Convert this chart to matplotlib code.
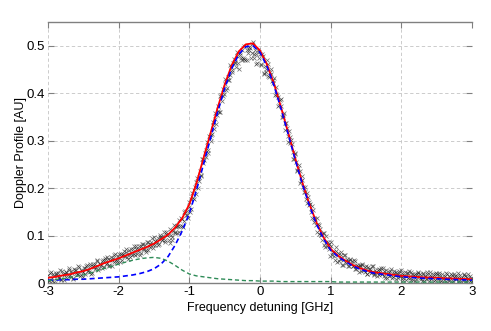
import numpy as np
import matplotlib
matplotlib.use("Agg")
import matplotlib.pyplot as plt

plt.rcParams['font.family'] = ['Liberation Sans', 'DejaVu Sans']

# fitted curves, sampled every 0.1 GHz from -3 to 3
fit_x = np.linspace(-3, 3, 61)
total_fit = [0.011, 0.013, 0.016, 0.018, 0.022, 0.025, 0.030, 0.036, 0.042, 0.047,
             0.052, 0.058, 0.064, 0.070, 0.076, 0.083, 0.092, 0.102, 0.117, 0.137,
             0.166, 0.210, 0.263, 0.316, 0.369, 0.418, 0.459, 0.488, 0.503, 0.505,
             0.490, 0.460, 0.419, 0.369, 0.316, 0.262, 0.211, 0.166, 0.127, 0.096,
             0.072, 0.058, 0.048, 0.039, 0.032, 0.027, 0.023, 0.021, 0.019, 0.017,
             0.015, 0.014, 0.013, 0.012, 0.0115, 0.011, 0.010, 0.0095, 0.009, 0.0085,
             0.008]
main_fit = [0.006, 0.006, 0.007, 0.007, 0.008, 0.008, 0.009, 0.010, 0.011, 0.012,
            0.013, 0.015, 0.017, 0.020, 0.024, 0.030, 0.040, 0.056, 0.080, 0.110,
            0.147, 0.195, 0.250, 0.305, 0.360, 0.410, 0.452, 0.482, 0.498, 0.500,
            0.486, 0.456, 0.415, 0.366, 0.313, 0.259, 0.208, 0.163, 0.124, 0.093,
            0.069, 0.056, 0.046, 0.037, 0.030, 0.025, 0.021, 0.019, 0.017, 0.015,
            0.013, 0.012, 0.011, 0.010, 0.0095, 0.009, 0.008, 0.0075, 0.007, 0.0065,
            0.006]
side_fit = [0.005, 0.007, 0.009, 0.011, 0.014, 0.017, 0.021, 0.026, 0.031, 0.035,
            0.040, 0.044, 0.048, 0.051, 0.053, 0.054, 0.052, 0.046, 0.037, 0.027,
            0.019, 0.015, 0.013, 0.011, 0.009, 0.008, 0.007, 0.006, 0.005, 0.005,
            0.004, 0.004, 0.004, 0.003, 0.003, 0.003, 0.003, 0.003, 0.003, 0.003,
            0.003, 0.002, 0.002, 0.002, 0.002, 0.002, 0.002, 0.002, 0.002, 0.002,
            0.002, 0.002, 0.002, 0.002, 0.002, 0.002, 0.002, 0.002, 0.002, 0.002,
            0.002]

# measured profile, scan 1 (every 0.02 GHz from -3 to 3)
scan1_x = np.linspace(-3, 3, 301)
scan1_y = [0.017, 0.007, 0.023, 0.004, 0.014, 0.001, 0.018, 0.022, 0.012, 0.009,
           0.025, 0.007, 0.020, 0.023, 0.016, 0.031, 0.013, 0.021, 0.011, 0.028,
           0.028, 0.018, 0.034, 0.016, 0.026, 0.013, 0.031, 0.035, 0.025, 0.023,
           0.039, 0.021, 0.035, 0.039, 0.033, 0.049, 0.032, 0.039, 0.031, 0.048,
           0.048, 0.039, 0.055, 0.037, 0.048, 0.035, 0.053, 0.058, 0.048, 0.046,
           0.062, 0.044, 0.058, 0.062, 0.056, 0.072, 0.055, 0.062, 0.054, 0.071,
           0.071, 0.062, 0.078, 0.061, 0.072, 0.059, 0.077, 0.082, 0.072, 0.070,
           0.086, 0.069, 0.083, 0.087, 0.081, 0.097, 0.080, 0.088, 0.080, 0.098,
           0.098, 0.090, 0.107, 0.090, 0.102, 0.104, 0.085, 0.101, 0.096, 0.123,
           0.107, 0.120, 0.121, 0.108, 0.137, 0.121, 0.131, 0.151, 0.152, 0.137,
           0.160, 0.156, 0.190, 0.178, 0.202, 0.212, 0.201, 0.224, 0.227, 0.261,
           0.253, 0.273, 0.280, 0.274, 0.309, 0.300, 0.315, 0.340, 0.346, 0.335,
           0.363, 0.360, 0.395, 0.384, 0.409, 0.420, 0.406, 0.428, 0.427, 0.460,
           0.449, 0.464, 0.466, 0.455, 0.486, 0.451, 0.481, 0.490, 0.475, 0.472,
           0.500, 0.469, 0.490, 0.495, 0.484, 0.508, 0.475, 0.483, 0.463, 0.487,
           0.483, 0.459, 0.478, 0.441, 0.451, 0.469, 0.436, 0.444, 0.440, 0.422,
           0.433, 0.399, 0.397, 0.374, 0.386, 0.374, 0.349, 0.359, 0.323, 0.326,
           0.297, 0.308, 0.302, 0.277, 0.261, 0.271, 0.236, 0.242, 0.236, 0.216,
           0.225, 0.192, 0.191, 0.169, 0.182, 0.171, 0.149, 0.162, 0.129, 0.134,
           0.108, 0.124, 0.122, 0.102, 0.091, 0.105, 0.075, 0.087, 0.086, 0.071,
           0.086, 0.059, 0.065, 0.049, 0.067, 0.063, 0.047, 0.065, 0.038, 0.049,
           0.060, 0.042, 0.046, 0.036, 0.048, 0.046, 0.035, 0.047, 0.029, 0.036,
           0.023, 0.036, 0.038, 0.028, 0.023, 0.036, 0.018, 0.029, 0.030, 0.023,
           0.035, 0.019, 0.024, 0.015, 0.029, 0.028, 0.018, 0.031, 0.014, 0.022,
           0.010, 0.024, 0.026, 0.016, 0.013, 0.026, 0.009, 0.020, 0.022, 0.015,
           0.027, 0.011, 0.016, 0.007, 0.022, 0.021, 0.011, 0.024, 0.007, 0.016,
           0.004, 0.018, 0.021, 0.011, 0.008, 0.021, 0.004, 0.015, 0.018, 0.011,
           0.024, 0.008, 0.013, 0.004, 0.019, 0.018, 0.008, 0.021, 0.004, 0.013,
           0.001, 0.015, 0.018, 0.008, 0.005, 0.019, 0.002, 0.013, 0.015, 0.009,
           0.021, 0.005, 0.011, 0.002, 0.016, 0.015, 0.005, 0.019, 0.002, 0.011,
           0.001]

# scan 2 (every 0.02 GHz from -2.99 to 2.99)
scan2_x = np.linspace(-2.99, 2.99, 300)
scan2_y = [0.004, 0.022, 0.010, 0.018, 0.002, 0.021, 0.014, 0.010, 0.027, 0.007,
           0.020, 0.016, 0.023, 0.010, 0.028, 0.017, 0.025, 0.009, 0.029, 0.022,
           0.018, 0.035, 0.015, 0.028, 0.024, 0.032, 0.019, 0.037, 0.027, 0.035,
           0.020, 0.040, 0.033, 0.030, 0.047, 0.028, 0.041, 0.038, 0.047, 0.034,
           0.052, 0.042, 0.050, 0.035, 0.055, 0.048, 0.044, 0.062, 0.042, 0.056,
           0.053, 0.061, 0.049, 0.067, 0.057, 0.065, 0.050, 0.070, 0.063, 0.060,
           0.077, 0.058, 0.072, 0.068, 0.077, 0.064, 0.083, 0.072, 0.081, 0.066,
           0.086, 0.079, 0.076, 0.094, 0.074, 0.088, 0.086, 0.094, 0.082, 0.101,
           0.091, 0.100, 0.086, 0.107, 0.101, 0.090, 0.114, 0.090, 0.109, 0.106,
           0.119, 0.105, 0.132, 0.121, 0.134, 0.118, 0.149, 0.144, 0.143, 0.171,
           0.150, 0.176, 0.179, 0.197, 0.188, 0.221, 0.216, 0.236, 0.225, 0.261,
           0.260, 0.265, 0.297, 0.280, 0.308, 0.312, 0.332, 0.325, 0.358, 0.353,
           0.373, 0.361, 0.396, 0.395, 0.399, 0.430, 0.410, 0.435, 0.438, 0.455,
           0.444, 0.473, 0.463, 0.479, 0.463, 0.485, 0.475, 0.470, 0.500, 0.469,
           0.491, 0.484, 0.497, 0.474, 0.503, 0.483, 0.492, 0.462, 0.490, 0.474,
           0.462, 0.483, 0.442, 0.457, 0.444, 0.461, 0.435, 0.450, 0.426, 0.427,
           0.397, 0.412, 0.391, 0.375, 0.387, 0.349, 0.355, 0.338, 0.337, 0.309,
           0.321, 0.294, 0.293, 0.261, 0.275, 0.254, 0.238, 0.249, 0.211, 0.218,
           0.202, 0.203, 0.176, 0.190, 0.165, 0.166, 0.137, 0.154, 0.136, 0.122,
           0.137, 0.103, 0.113, 0.101, 0.105, 0.081, 0.099, 0.079, 0.083, 0.057,
           0.078, 0.065, 0.056, 0.075, 0.044, 0.059, 0.051, 0.058, 0.038, 0.059,
           0.047, 0.051, 0.035, 0.050, 0.041, 0.035, 0.048, 0.029, 0.038, 0.033,
           0.038, 0.025, 0.039, 0.028, 0.033, 0.018, 0.034, 0.026, 0.021, 0.035,
           0.016, 0.027, 0.022, 0.028, 0.016, 0.031, 0.020, 0.026, 0.011, 0.027,
           0.020, 0.015, 0.029, 0.011, 0.021, 0.017, 0.023, 0.011, 0.025, 0.015,
           0.021, 0.006, 0.023, 0.015, 0.011, 0.025, 0.007, 0.018, 0.014, 0.020,
           0.008, 0.023, 0.012, 0.018, 0.004, 0.020, 0.013, 0.009, 0.023, 0.005,
           0.016, 0.012, 0.018, 0.006, 0.021, 0.010, 0.017, 0.002, 0.019, 0.011,
           0.007, 0.021, 0.003, 0.014, 0.010, 0.016, 0.004, 0.019, 0.009, 0.015,
           0.001, 0.017, 0.010, 0.006, 0.020, 0.002, 0.013, 0.009, 0.015, 0.003]

x_ticks = [-3, -2, -1, 0, 1, 2, 3]
y_ticks = [0, 0.1, 0.2, 0.3, 0.4, 0.5]
y_ticklabels = ['0', '0.1', '0.2', '0.3', '0.4', '0.5']

fig = plt.figure(figsize=(4.91, 3.31), dpi=100)
ax = fig.add_axes([0.0978, 0.145, 0.8635, 0.7885])

ax.plot(scan1_x, scan1_y, 'x', color='0.1', markersize=3.2, mew=0.5, alpha=0.65, zorder=2)
ax.plot(scan2_x, scan2_y, 'x', color='0.1', markersize=3.2, mew=0.5, alpha=0.65, zorder=2)
ax.plot(fit_x, total_fit, '-', color='red', lw=1.3, zorder=3)
ax.plot(fit_x, main_fit, '--', color='blue', lw=1.2, dashes=(3, 2), zorder=4)
ax.plot(fit_x, side_fit, '--', color='#2e8b57', lw=1.0, dashes=(3, 2), zorder=4)

ax.set_xlim(-3, 3)
ax.set_ylim(0, 0.55)
ax.set_xticks(x_ticks)
ax.set_xticklabels([str(t) for t in x_ticks])
ax.set_yticks(y_ticks)
ax.set_yticklabels(y_ticklabels)

ax.grid(True, color='#c4c4c4', linestyle=(0, (4, 3)), lw=0.6)
ax.set_axisbelow(True)

for s in ['left', 'right']:
    ax.spines[s].set_visible(False)
for s in ['top', 'bottom']:
    ax.spines[s].set_color('#808080')
    ax.spines[s].set_linewidth(1.0)

ax.tick_params(direction='in', length=4, width=0.8, color='#808080',
               top=True, right=True, labelsize=9.5, pad=2)

ax.set_xlabel('Frequency detuning [GHz]', fontsize=9, labelpad=3)
ax.set_ylabel('Doppler Profile [AU]', fontsize=9, labelpad=0)

fig.savefig('out.png', dpi=100)
